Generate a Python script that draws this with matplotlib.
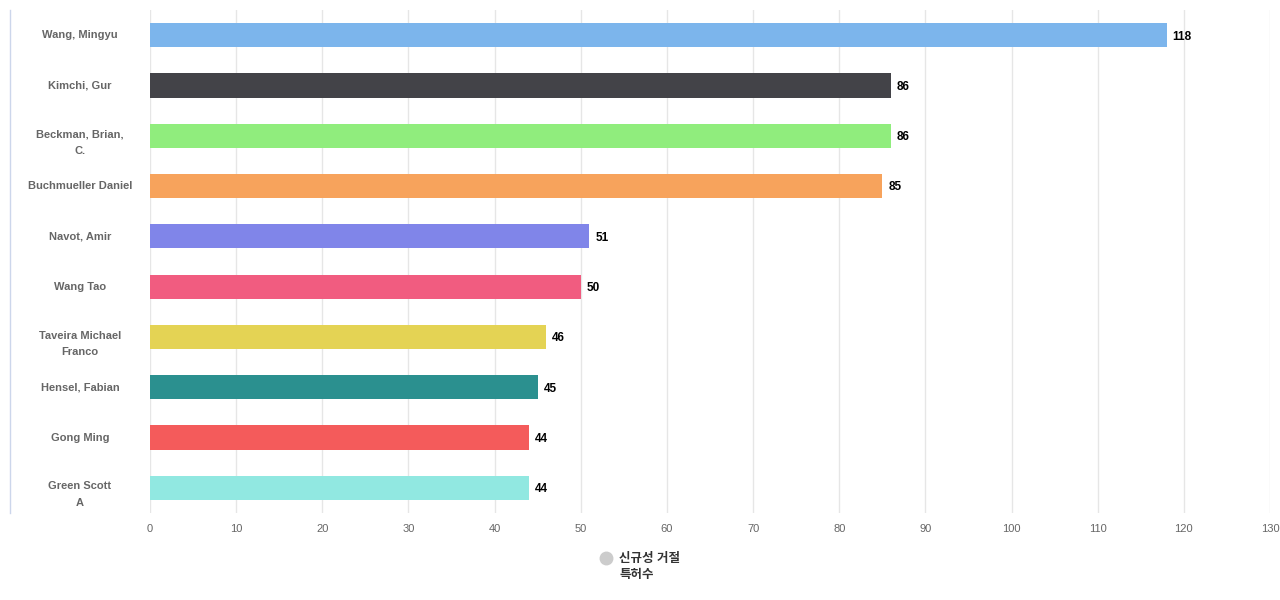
import matplotlib.pyplot as plt
from matplotlib.lines import Line2D

plt.rcParams['font.family'] = ['Liberation Sans', 'Noto Sans CJK KR', 'DejaVu Sans']

names = ["Wang, Mingyu", "Kimchi, Gur", "Beckman, Brian,\nC.", "Buchmueller Daniel",
         "Navot, Amir", "Wang Tao", "Taveira Michael\nFranco", "Hensel, Fabian",
         "Gong Ming", "Green Scott\nA"]
counts = [118, 86, 86, 85, 51, 50, 46, 45, 44, 44]
colors = ["#7cb5ec", "#434348", "#90ed7d", "#f7a35c", "#8085e9",
          "#f15c80", "#e4d354", "#2b908f", "#f45b5b", "#91e8e1"]
xticks = list(range(0, 131, 10))
legend_label = "신규성 거절\n특허수"

fig = plt.figure(figsize=(12.8, 6), dpi=100)
ax = fig.add_axes([150 / 1280, 1 - 513 / 600, 1120 / 1280, 503 / 600])

pos = list(range(len(names)))
ax.barh(pos, counts, height=0.48, color=colors, zorder=3)
for p, v in zip(pos, counts):
    ax.annotate(str(v), (v, p), xytext=(4.3, -1), textcoords="offset points",
                ha="left", va="center", fontsize=8.5, fontweight="bold", color="#000000")

ax.set_xlim(0, 130)
ax.set_ylim(len(names) - 0.5, -0.5)
ax.set_xticks(xticks)
ax.set_xticklabels([str(t) for t in xticks], color="#666666", fontsize=8)
ax.set_yticks(pos)
ax.set_yticklabels([])
ax.tick_params(length=0)
ax.tick_params(axis="x", pad=8)
ax.grid(axis="x", color="#e6e6e6", linewidth=1, zorder=0)
for s in ax.spines.values():
    s.set_visible(False)

# category labels centered in the left area; wrapped ones start near the bar centre
for p, n in zip(pos, names):
    shift = 0.14 if "\n" in n else 0.0
    ax.text(-70 / 1120 * 130, p + shift, n, ha="center", va="center", fontsize=8,
            fontweight="bold", color="#666666", linespacing=1.85, clip_on=False)

fig.add_artist(Line2D([9.5 / 1280, 9.5 / 1280], [1 - 10 / 600, 1 - 513 / 600],
                      color="#ccd6eb", linewidth=1))

# legend
fig.add_artist(Line2D([606 / 1280], [1 - 558 / 600], marker="o", markersize=9,
                      color="#cccccc", linestyle="none"))
fig.text(619 / 1280, 1 - 553 / 600, legend_label, ha="left", va="top", fontsize=9,
         fontweight="bold", color="#333333", linespacing=1.4)

fig.savefig("out.png", dpi=100)
